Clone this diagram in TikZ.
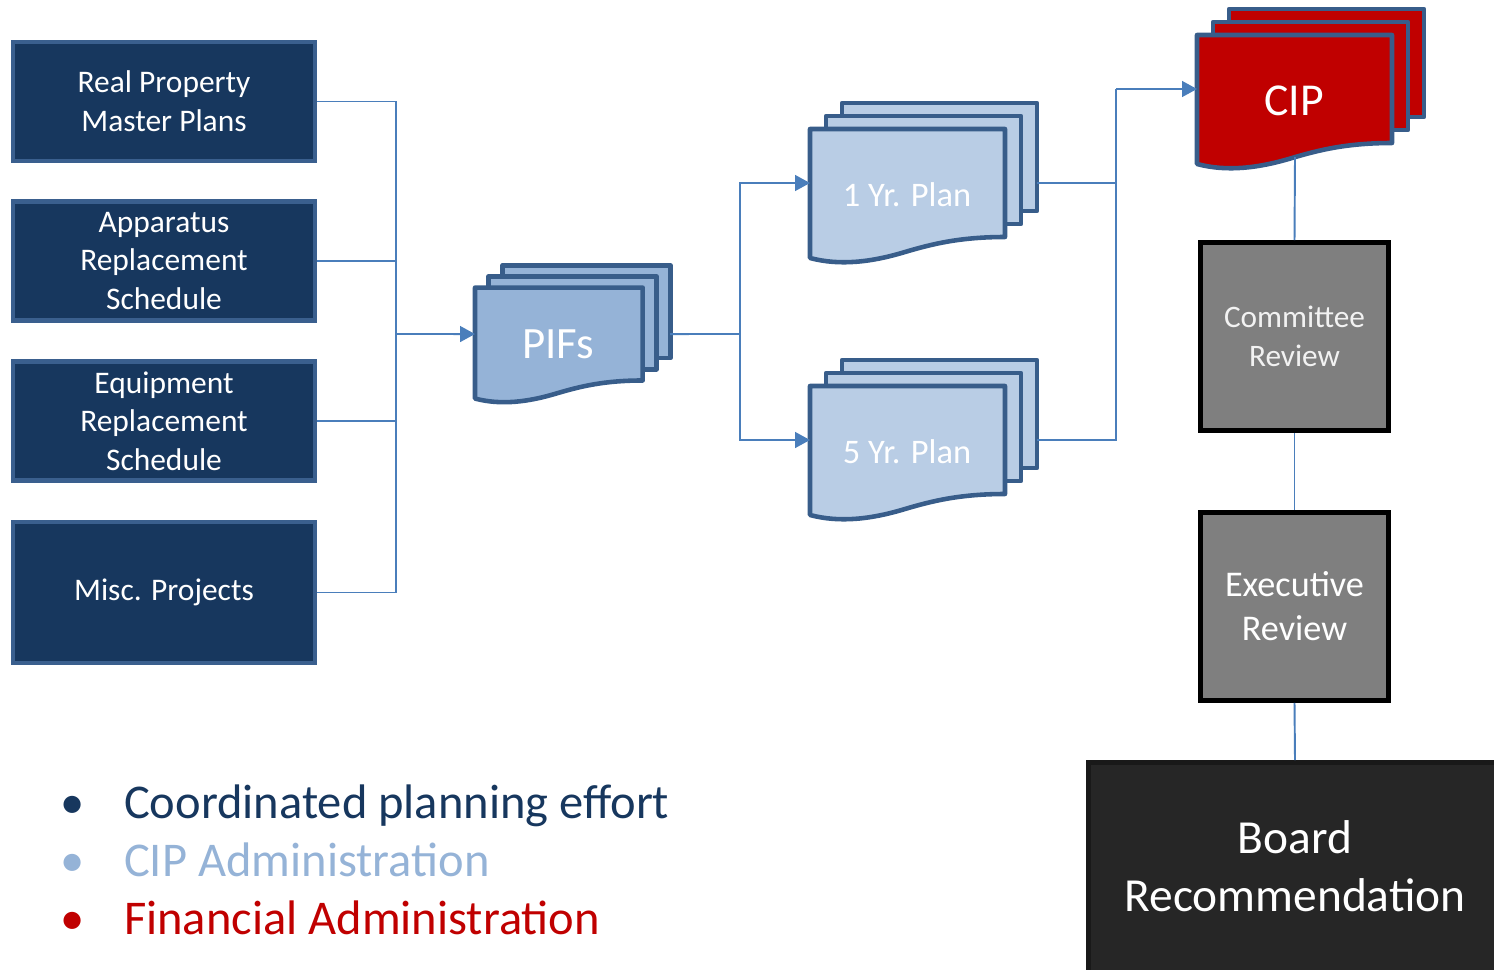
\documentclass[tikz,border=0pt]{standalone}
\usepackage{fontspec}
\setmainfont{Carlito}
\usetikzlibrary{arrows.meta,positioning,calc}

\definecolor{navy}{HTML}{17375E}
\definecolor{navyline}{HTML}{3A5F8E}
\definecolor{pageline}{HTML}{385D8A}
\definecolor{pifsfill}{HTML}{95B3D7}
\definecolor{planfill}{HTML}{B9CDE5}
\definecolor{cipred}{HTML}{C00000}
\definecolor{linkblue}{HTML}{4A7EBB}
\definecolor{reviewgray}{HTML}{7F7F7F}
\definecolor{boarddark}{HTML}{262626}

% stack of three pages: name, front top-left, scale, fill, font size, label
\newcommand{\docstack}[6]{%
  \begin{scope}[shift={#2},scale=#3]
    \draw[page,fill=#4] (32,-26) rectangle ++(195,108);
    \draw[page,fill=#4] (16,-13) rectangle ++(195,108);
    \draw[page,fill=#4] (0,0) -- (195,0) -- (195,108)
      .. controls (150,108) and (122,115) .. (95,123)
      .. controls (62,133) and (30,137) .. (0,129) -- cycle;
    \node[doclabel,font=\fontsize{#5}{#5}\selectfont] (#1) at (97,66) {#6};
    \coordinate (#1-in) at (0,54);
    \coordinate (#1-out) at (227,54);
    \coordinate (#1-bot) at (98,122);
  \end{scope}
}

\begin{document}
\begin{tikzpicture}[x=0.02cm,y=-0.02cm,
  srcbox/.style={rectangle,draw=navyline,line width=2.4pt,fill=navy,text=white,
    minimum width=6.04cm,minimum height=2.38cm,align=center,
    font=\fontsize{17.9}{22}\selectfont},
  page/.style={draw=pageline,line width=2.6pt,line join=round},
  doclabel/.style={text=white,inner sep=0pt},
  review/.style={rectangle,draw=black,line width=2.8pt,fill=reviewgray,
    minimum width=3.76cm,minimum height=3.76cm,align=center},
  link/.style={draw=linkblue,line width=1.1pt},
  arrow/.style={link,-{Triangle[length=8.5pt,width=9pt]}},
  bullet/.style={anchor=base west,inner sep=0pt,font=\fontsize{27.6}{33}\selectfont}]
\useasboundingbox (0,0) rectangle (1494,970);

% Sources
\node[srcbox] (rp) at (164,101.5) {Real Property\\Master Plans};
\node[srcbox] (ars) at (164,261) {Apparatus\\Replacement\\Schedule};
\node[srcbox] (ers) at (164,421) {Equipment\\Replacement\\Schedule};
\node[srcbox,minimum height=2.82cm] (misc) at (164,592.5) {Misc. Projects};

% Documents
\docstack{pifs}{(475,287.6)}{0.86}{pifsfill}{25.5}{PIFs}
\docstack{yr1}{(810,129)}{1}{planfill}{19.6}{1 Yr. Plan}
\docstack{yr5}{(810,386)}{1}{planfill}{19.6}{5 Yr. Plan}
\docstack{cip}{(1197,35)}{1}{cipred}{26}{CIP}

% Reviews
\node[review,text=white!95!black,font=\fontsize{17.8}{22}\selectfont] (committee) at (1294.5,336.5) {Committee\\Review};
\node[review,text=white,font=\fontsize{20.6}{25}\selectfont] (executive) at (1294.5,606.5) {Executive\\Review};
\node[rectangle,draw=black!90,line width=2.8pt,fill=boarddark,text=white,
  minimum width=8.26cm,minimum height=4.5cm,align=center,text depth=10pt,
  font=\fontsize{27}{33}\selectfont] (board) at (1295,875) {Board\\Recommendation};

% Connectors
\coordinate (bus) at (396,334);
\coordinate (split) at (740,334);
\coordinate (merge) at (1116,89);
\draw[link] (rp.east) -| (bus);
\draw[link] (ars.east) -| (bus);
\draw[link] (ers.east) -| (bus);
\draw[link] (misc.east) -| (bus);
\draw[arrow] (bus) -- (pifs-in);
\draw[link] (pifs-out) -- (split);
\draw[arrow] (split) |- (yr1-in);
\draw[arrow] (split) |- (yr5-in);
\draw[link] (yr1-out) -| (merge);
\draw[link] (yr5-out) -| (merge);
\draw[arrow] (merge) -- (cip-in);
\draw[link] (cip-bot) -- (committee.north);
\draw[link] (committee.south) -- (executive.north);
\draw[link] (executive.south) -- (board.north);

% Notes
\node[bullet,text=navy] (b1) at (60,818) {\makebox[36.3pt][l]{•}Coordinated planning effort};
\node[bullet,text=pifsfill] (b2) at (60,876) {\makebox[36.3pt][l]{•}CIP Administration};
\node[bullet,text=cipred] (b3) at (60,934) {\makebox[36.3pt][l]{•}Financial Administration};
\end{tikzpicture}
\end{document}
